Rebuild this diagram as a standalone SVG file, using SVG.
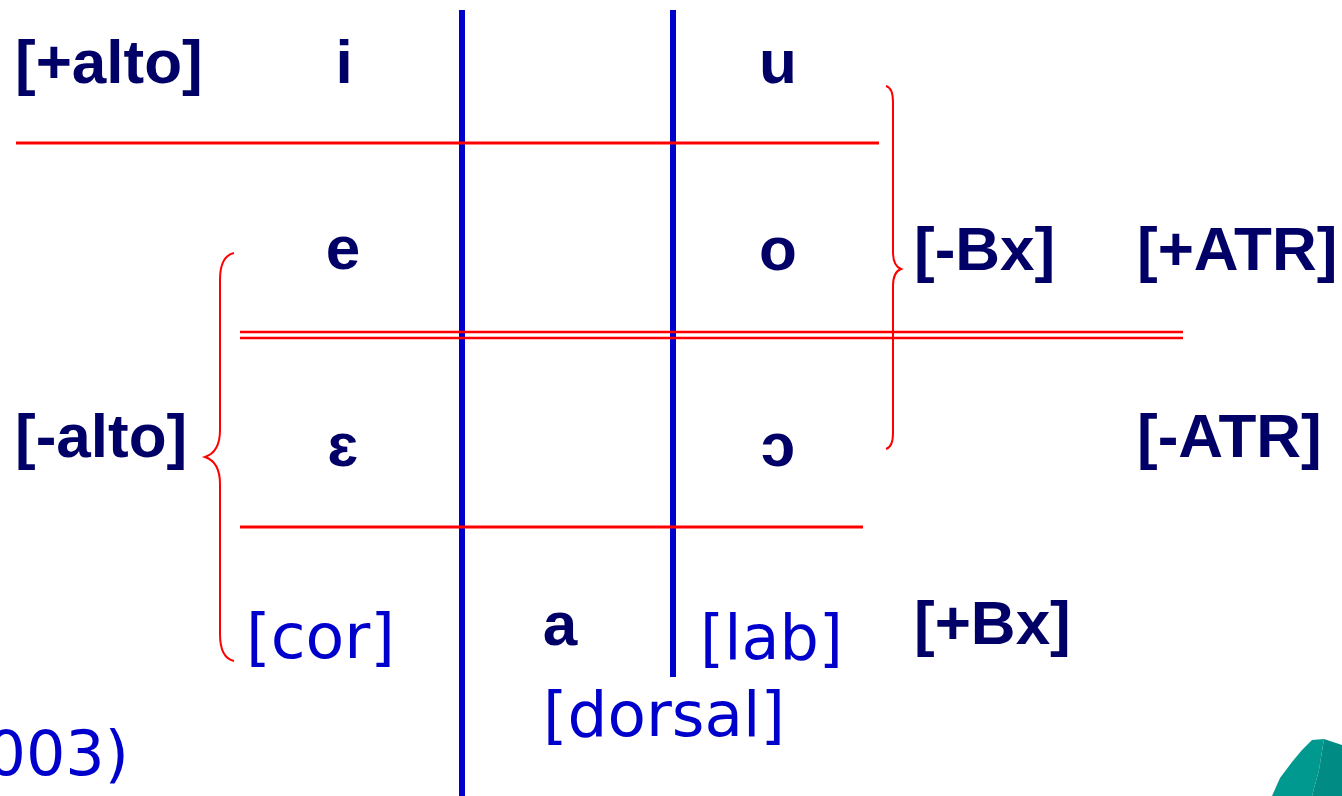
<svg xmlns="http://www.w3.org/2000/svg" width="1342" height="796" viewBox="0 0 1342 796">
<style>
.nv{font-family:"Liberation Sans",Arial,sans-serif;font-weight:bold;font-size:62px;fill:#000066}
.bl{font-family:"DejaVu Sans",Verdana,sans-serif;font-size:62px;fill:#0000CC}
.red{stroke:#FF0000;fill:none}
.blu{stroke:#0000CC;stroke-width:6;fill:none}
</style>
<rect width="1342" height="796" fill="#FFFFFF"/>
<g id="connectors">
<line class="blu" x1="462" y1="10" x2="462" y2="796"/>
<line class="blu" x1="673" y1="10" x2="673" y2="677"/>
<line class="red" stroke-width="3" x1="16" y1="143" x2="879" y2="143"/>
<line class="red" stroke-width="2.5" x1="240" y1="332" x2="1183" y2="332"/>
<line class="red" stroke-width="2.5" x1="240" y1="338" x2="1183" y2="338"/>
<line class="red" stroke-width="3" x1="240" y1="527" x2="863" y2="527"/>
<path class="red" stroke-width="2" d="M886,86 Q893,88 893,102 L893,252 Q893,266 901,269 Q893,272 893,286 L893,433 Q893,447 886,449"/>
<path class="red" stroke-width="2" d="M234,253 Q220,256 220,280 L220,430 Q220,452 205,457 Q220,462 220,484 L220,634 Q220,658 234,661"/>
</g>
<g id="label-plus-alto"><text class="nv" x="15" y="83">[+alto]</text></g>
<g id="label-minus-alto"><text class="nv" x="15" y="457">[-alto]</text></g>
<g id="vowel-i"><text class="nv" x="344" y="83" text-anchor="middle">i</text></g>
<g id="vowel-u"><text class="nv" x="778" y="83" text-anchor="middle">u</text></g>
<g id="vowel-e"><text class="nv" x="343" y="269" text-anchor="middle">e</text></g>
<g id="vowel-o"><text class="nv" x="778" y="270" text-anchor="middle">o</text></g>
<g id="vowel-open-e"><text class="nv" x="343" y="466" text-anchor="middle" font-size="66">ɛ</text></g>
<g id="vowel-open-o"><text class="nv" x="778" y="466" text-anchor="middle" font-size="66">ɔ</text></g>
<g id="vowel-a"><text class="nv" x="560" y="645" text-anchor="middle">a</text></g>
<g id="label-minus-bx"><text class="nv" x="914" y="270">[-Bx]</text></g>
<g id="label-plus-bx"><text class="nv" x="914" y="644">[+Bx]</text></g>
<g id="label-plus-atr"><text class="nv" x="1137" y="270">[+ATR]</text></g>
<g id="label-minus-atr"><text class="nv" x="1137" y="457">[-ATR]</text></g>
<g id="label-cor"><text class="bl" x="246" y="658" textLength="149" lengthAdjust="spacingAndGlyphs">[cor]</text></g>
<g id="label-lab"><text class="bl" x="700" y="659" textLength="143" lengthAdjust="spacingAndGlyphs">[lab]</text></g>
<g id="label-dorsal"><text class="bl" x="543" y="736" textLength="242" lengthAdjust="spacingAndGlyphs">[dorsal]</text></g>
<g id="citation"><text class="bl" x="129" y="775" text-anchor="end">2003)</text></g>
<g id="teal-shape">
<polygon fill="#009990" points="1272,796 1280,778 1292,762 1302,750 1312,740 1324,739 1319,770 1312,796"/>
<polygon fill="#008C84" points="1324,739 1342,745 1342,796 1312,796 1319,770"/>
</g>
</svg>
